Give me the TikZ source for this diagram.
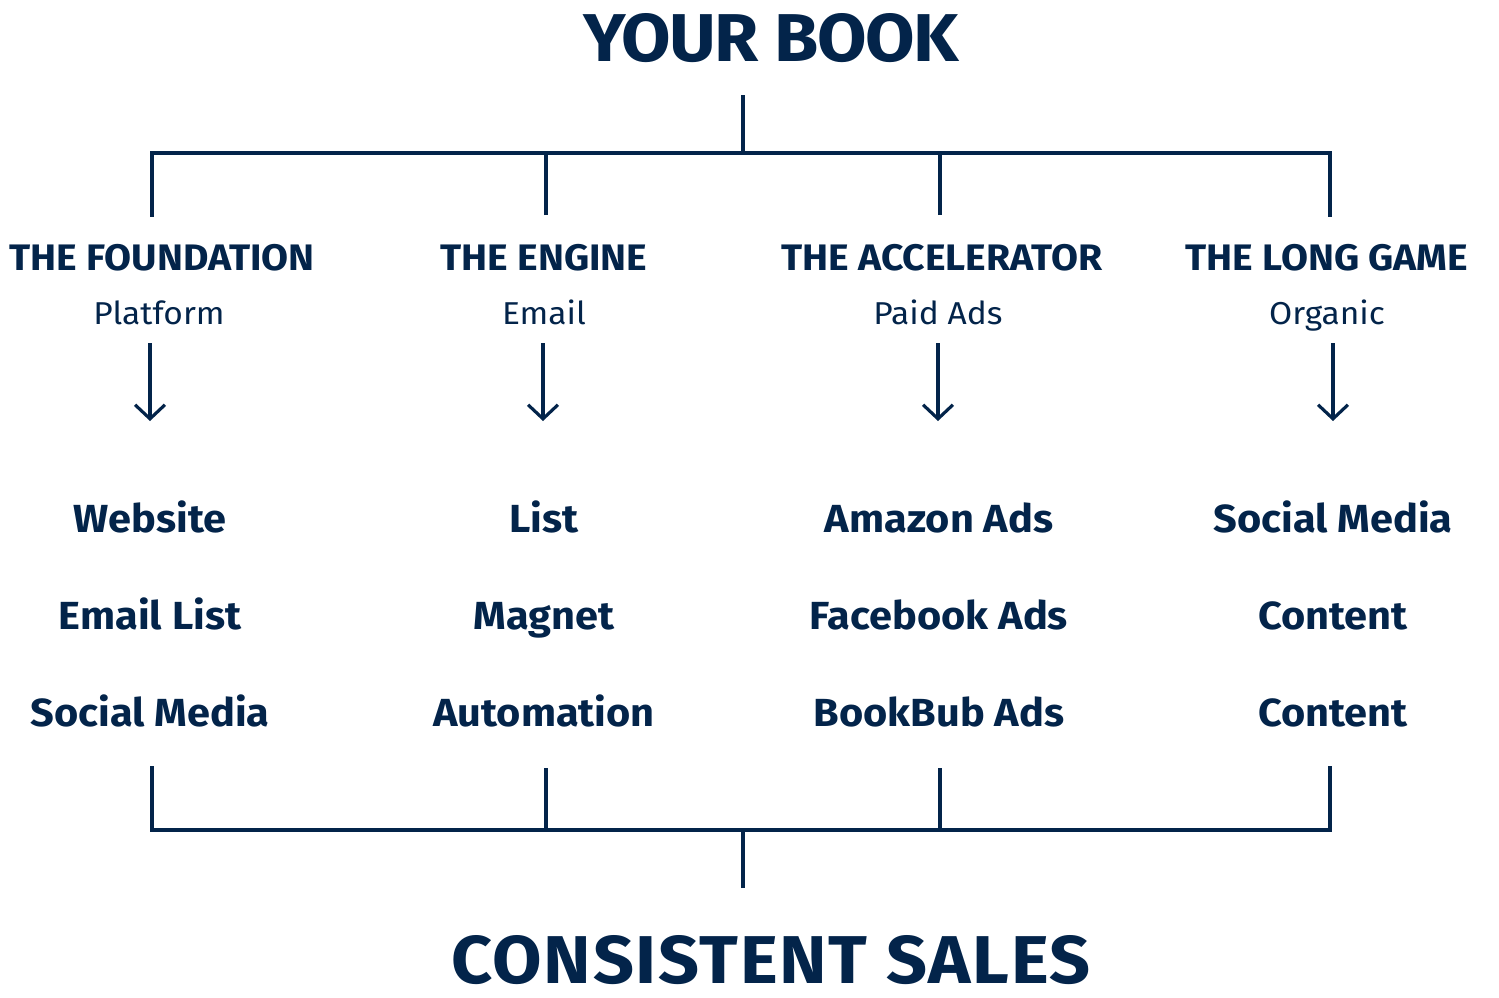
\documentclass[tikz,border=0pt]{standalone}
\usepackage{fontspec}
\setmainfont{Fira Sans}[FakeStretch=1.06]
\usetikzlibrary{arrows.meta}
\definecolor{navy}{RGB}{3,36,74}
\begin{document}
\begin{tikzpicture}[x=0.02cm,y=-0.02cm,
  treeline/.style={draw=navy,line width=2.4pt},
  arr/.style={draw=navy,line width=1.8pt,-{Straight Barb[length=8pt,width=17pt,line width=1.8pt]}},
  title/.style={anchor=base,text=navy,font=\fontsize{38.5}{38.5}\selectfont\bfseries,inner sep=0pt},
  head/.style={anchor=base,text=navy,font=\fontsize{21}{21}\selectfont\bfseries,inner sep=0pt},
  sub/.style={anchor=base,text=navy,font=\fontsize{18}{18}\selectfont,inner sep=0pt},
  item/.style={anchor=base,text=navy,font=\fontsize{22.3}{22.3}\selectfont\bfseries,inner sep=0pt}]
\useasboundingbox (0,0) rectangle (1499,998);
\node[title] (book) at (771,61) {\addfontfeature{LetterSpace=-2.4}YOUR BOOK};
\node[title] (sales) at (771,983) {\addfontfeature{LetterSpace=2.5}CONSISTENT SALES};
% top tree
\coordinate (ts) at (743,95);
\coordinate (tj) at (743,153);
\coordinate (t1) at (152,215);
\coordinate (t2) at (546,215);
\coordinate (t3) at (940,215);
\coordinate (t4) at (1330,215);
\draw[treeline] (ts) -- (tj);
\draw[treeline,line cap=rect] (t1) |- (tj) -| (t4);
\draw[treeline] (t2) -- (t2 |- tj);
\draw[treeline] (t3) -- (t3 |- tj);
% bottom tree
\coordinate (bs) at (743,888);
\coordinate (bj) at (743,830);
\coordinate (b1) at (152,768);
\coordinate (b2) at (546,768);
\coordinate (b3) at (940,768);
\coordinate (b4) at (1330,768);
\draw[treeline] (bs) -- (bj);
\draw[treeline,line cap=rect] (b1) |- (bj) -| (b4);
\draw[treeline] (b2) -- (b2 |- bj);
\draw[treeline] (b3) -- (b3 |- bj);
% headings
\node[head] (h1) at (162,270) {THE FOUNDATION};
\node[head] (h2) at (544,270) {THE ENGINE};
\node[head] (h3) at (942,270) {THE ACCELERATOR};
\node[head] (h4) at (1327,270) {THE LONG GAME};
\node[sub] (s1) at (159,324) {Platform};
\node[sub] (s2) at (544,324) {Email};
\node[sub] (s3) at (938,324) {Paid Ads};
\node[sub] (s4) at (1327,324) {Organic};
% arrows
\coordinate (a1s) at (150,343); \coordinate (a1e) at (150,421);
\coordinate (a2s) at (543,343); \coordinate (a2e) at (543,421);
\coordinate (a3s) at (938,343); \coordinate (a3e) at (938,421);
\coordinate (a4s) at (1333,343); \coordinate (a4e) at (1333,421);
\draw[arr] (a1s) -- (a1e);
\draw[arr] (a2s) -- (a2e);
\draw[arr] (a3s) -- (a3e);
\draw[arr] (a4s) -- (a4e);
% items
\node[item] (i11) at (150,532) {Website};
\node[item] (i12) at (150,629) {Email List};
\node[item] (i13) at (150,726) {Social Media};
\node[item] (i21) at (544,532) {List};
\node[item] (i22) at (544,629) {Magnet};
\node[item] (i23) at (544,726) {Automation};
\node[item] (i31) at (939,532) {Amazon Ads};
\node[item] (i32) at (939,629) {Facebook Ads};
\node[item] (i33) at (939,726) {BookBub Ads};
\node[item] (i41) at (1333,532) {Social Media};
\node[item] (i42) at (1333,629) {Content};
\node[item] (i43) at (1333,726) {Content};
\end{tikzpicture}
\end{document}
